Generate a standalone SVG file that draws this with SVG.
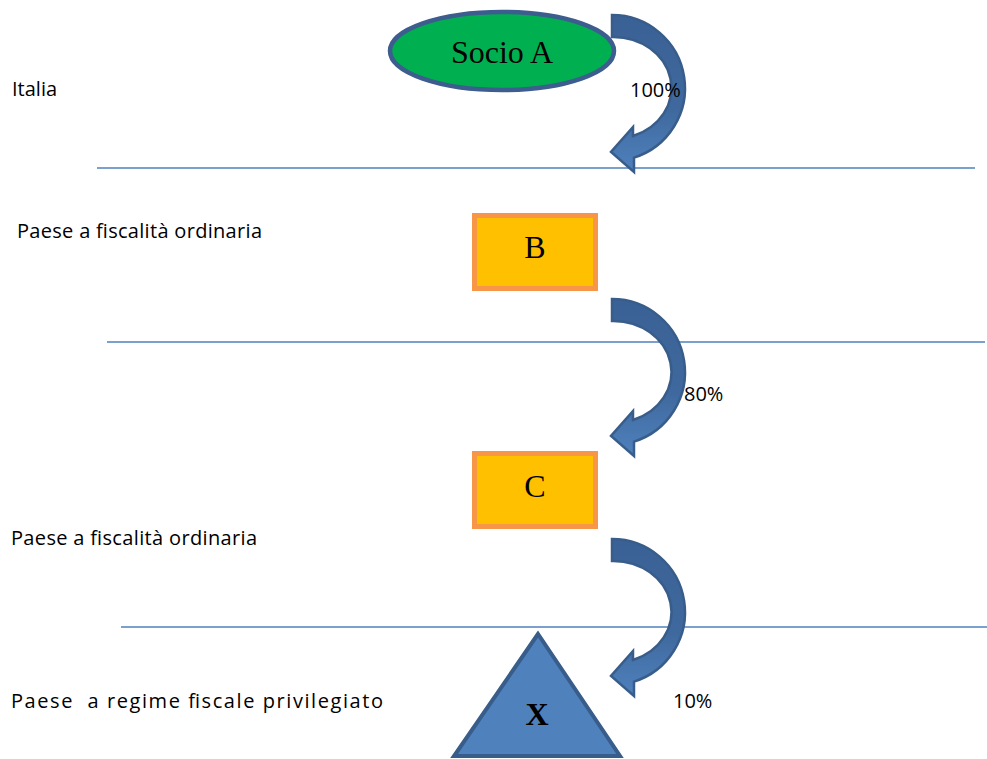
<svg xmlns="http://www.w3.org/2000/svg" width="987" height="759" viewBox="0 0 987 759">
<style>
.lbl{font-family:"Open Sans","Liberation Sans",sans-serif;font-size:20px;fill:#000}
.ttl{font-family:"Liberation Serif","Times New Roman",serif;font-size:32px;fill:#000;text-anchor:middle}
.sep{stroke:#4f81bd;stroke-width:1.5}
.box{fill:#ffc000;stroke:#f79646;stroke-width:5}
.arr{fill:url(#ag);stroke:#385d8a;stroke-width:2.5;stroke-linejoin:miter}
</style>
<defs>
<linearGradient id="ag" x1="0" y1="0" x2="0" y2="1">
<stop offset="0" stop-color="#3a6195"/>
<stop offset="0.6" stop-color="#3f699e"/>
<stop offset="1" stop-color="#4f81bd"/>
</linearGradient>
<path id="curved" class="arr" d="M612,15 A73,73 0 0 1 634,157.6 L634,172 L611,152 L633,127 L633,136 A58,51 0 0 0 612,37 Z"/>
</defs>
<g id="lines">
<line class="sep" x1="97" y1="168" x2="975" y2="168"/>
<line class="sep" x1="107" y1="342" x2="985" y2="342"/>
<line class="sep" x1="121" y1="627" x2="987" y2="627"/>
</g>
<g id="connectors">
<use href="#curved"/>
<use href="#curved" transform="translate(0,284)"/>
<use href="#curved" transform="translate(0,524)"/>
</g>
<g id="socioA">
<ellipse cx="502" cy="51" rx="112" ry="39" fill="#00b050" stroke="#3c5d8d" stroke-width="4.5"/>
<text class="ttl" x="502" y="63">Socio A</text>
</g>
<g id="nodeB">
<rect class="box" x="474.5" y="215.5" width="121" height="73"/>
<text class="ttl" x="535" y="258">B</text>
</g>
<g id="nodeC">
<rect class="box" x="474.5" y="453.5" width="121" height="73"/>
<text class="ttl" x="535" y="497">C</text>
</g>
<g id="nodeX">
<polygon points="538,634 454,756 620,756" fill="#4f81bd" stroke="#385d8a" stroke-width="4" stroke-linejoin="miter"/>
<text class="ttl" x="537" y="725" font-weight="bold" font-size="30">X</text>
</g>
<g id="labels">
<text class="lbl" x="12" y="96">Italia</text>
<text class="lbl" x="17" y="238" textLength="245">Paese a fiscalità ordinaria</text>
<text class="lbl" x="11" y="545" textLength="246">Paese a fiscalità ordinaria</text>
<text class="lbl" x="11" y="708" textLength="372" xml:space="preserve">Paese  a regime fiscale privilegiato</text>
<text class="lbl" x="630" y="97">100%</text>
<text class="lbl" x="684" y="401">80%</text>
<text class="lbl" x="673" y="708">10%</text>
</g>
</svg>
